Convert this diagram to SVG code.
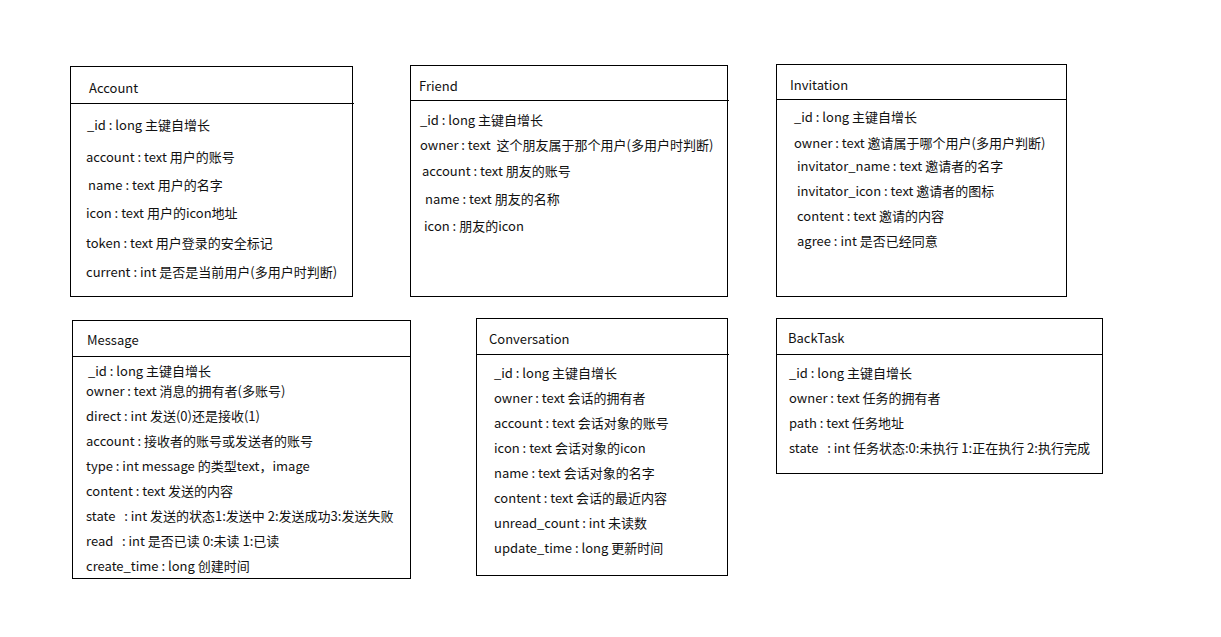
<svg xmlns="http://www.w3.org/2000/svg" width="1221" height="637" viewBox="0 0 1221 637">
<style>
.box{fill:#fff;stroke:#000;stroke-width:1}
.sep{stroke:#000;stroke-width:1}
text{font-family:"Noto Sans CJK SC","Microsoft YaHei",sans-serif;font-size:13px;fill:#111;white-space:pre}
</style>
<rect x="0" y="0" width="1221" height="637" fill="#fff"/>
<g id="connectors"></g>
<g id="Account">
<rect class="box" x="70.5" y="66.5" width="282" height="230"/>
<line class="sep" x1="70.5" y1="103.5" x2="354" y2="103.5"/>
<text x="89" y="92.5">Account</text>
<text x="87" y="129.5">_id : long 主键自增长</text>
<text x="86" y="161.5">account : text 用户的账号</text>
<text x="88" y="189.5">name : text 用户的名字</text>
<text x="86" y="217.5">icon : text 用户的icon地址</text>
<text x="86" y="247.5">token : text 用户登录的安全标记</text>
<text x="86" y="276.5">current : int 是否是当前用户(多用户时判断)</text>
</g>
<g id="Friend">
<rect class="box" x="410.5" y="65.5" width="317" height="231"/>
<line class="sep" x1="410.5" y1="100.5" x2="729" y2="100.5"/>
<text x="419" y="90.5">Friend</text>
<text x="420" y="124.5">_id : long 主键自增长</text>
<text x="420" y="149.5">owner : text  这个朋友属于那个用户(多用户时判断)</text>
<text x="422" y="175.5">account : text 朋友的账号</text>
<text x="425" y="203.5">name : text 朋友的名称</text>
<text x="424" y="230.5">icon : 朋友的icon</text>
</g>
<g id="Invitation">
<rect class="box" x="776.5" y="64.5" width="290" height="232"/>
<line class="sep" x1="776.5" y1="99.5" x2="1066.5" y2="99.5"/>
<text x="790" y="89.5">Invitation</text>
<text x="794" y="121.5">_id : long 主键自增长</text>
<text x="794" y="147.5">owner : text 邀请属于哪个用户(多用户判断)</text>
<text x="797" y="170.5">invitator_name : text 邀请者的名字</text>
<text x="797" y="195.5">invitator_icon : text 邀请者的图标</text>
<text x="797" y="220.5">content : text 邀请的内容</text>
<text x="797" y="245.5">agree : int 是否已经同意</text>
</g>
<g id="Message">
<rect class="box" x="72.5" y="320.5" width="338" height="258"/>
<line class="sep" x1="72.5" y1="356.5" x2="410.5" y2="356.5"/>
<text x="87" y="344.5">Message</text>
<text x="88" y="375.5">_id : long 主键自增长</text>
<text x="86" y="395.5">owner : text 消息的拥有者(多账号)</text>
<text x="86" y="420.5">direct : int 发送(0)还是接收(1)</text>
<text x="86" y="445.5">account : 接收者的账号或发送者的账号</text>
<text x="86" y="470.5">type : int message 的类型text，image</text>
<text x="86" y="495.5">content : text 发送的内容</text>
<text x="86" y="520.5">state   : int 发送的状态1:发送中 2:发送成功3:发送失败</text>
<text x="86" y="545.5">read   : int 是否已读 0:未读 1:已读</text>
<text x="86" y="570.5">create_time : long 创建时间</text>
</g>
<g id="Conversation">
<rect class="box" x="476.5" y="318.5" width="251" height="257"/>
<line class="sep" x1="476.5" y1="354.5" x2="729" y2="354.5"/>
<text x="489" y="343.5">Conversation</text>
<text x="494" y="377.5">_id : long 主键自增长</text>
<text x="494" y="402.5">owner : text 会话的拥有者</text>
<text x="494" y="427.5">account : text 会话对象的账号</text>
<text x="494" y="452.5">icon : text 会话对象的icon</text>
<text x="494" y="477.5">name : text 会话对象的名字</text>
<text x="494" y="502.5">content : text 会话的最近内容</text>
<text x="494" y="527.5">unread_count : int 未读数</text>
<text x="494" y="552.5">update_time : long 更新时间</text>
</g>
<g id="BackTask">
<rect class="box" x="776.5" y="318.5" width="326" height="155"/>
<line class="sep" x1="776.5" y1="354.5" x2="1102.5" y2="354.5"/>
<text x="788" y="342.5">BackTask</text>
<text x="789" y="377.5">_id : long 主键自增长</text>
<text x="789" y="402.5">owner : text 任务的拥有者</text>
<text x="789" y="427.5">path : text 任务地址</text>
<text x="789" y="452.5">state   : int 任务状态:0:未执行 1:正在执行 2:执行完成</text>
</g>
</svg>
